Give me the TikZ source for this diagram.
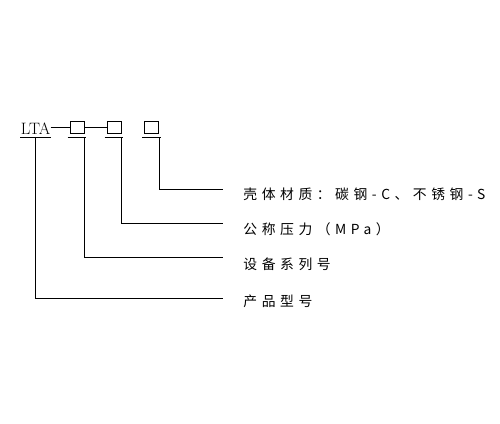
\documentclass[tikz,border=0pt]{standalone}
\usepackage{fontspec}
\newfontfamily\cjk[LetterSpace=33]{Noto Sans CJK SC}
\usetikzlibrary{positioning}

\tikzset{
  slot/.style={rectangle, draw=black, minimum width=14pt, minimum height=12pt, inner sep=0pt},
  note/.style={inner sep=0pt, anchor=west, font=\cjk\fontsize{13.8}{15}\selectfont},
  lead/.style={line width=0.9pt}
}

\begin{document}
\begin{tikzpicture}[x=1pt, y=-1pt, lead]
\useasboundingbox (0,0) rectangle (500,423);

% Код изделия
\node (lta) [anchor=south, inner xsep=0pt, inner ysep=2pt, font=\fontsize{16.5}{18}\selectfont] at (35.5,137) {LTA};
\node (b1) [slot] at (77,127) {};
\node (b2) [slot] at (114,127) {};
\node (b3) [slot] at (151.5,127) {};

% Подчёркивания и тире
\draw (lta.south west) -- (lta.south east);
\foreach \b in {b1,b2,b3}
  \draw ([xshift=-2pt,yshift=-4pt]\b.south west) -- ([xshift=2pt,yshift=-4pt]\b.south east);
\draw (lta.east |- b1.west) -- (b1.west);
\draw (b1.east) -- (b2.west);

% Концы выносок
\coordinate (e1) at (223,189);
\coordinate (e2) at (223,223);
\coordinate (e3) at (223,257);
\coordinate (e4) at (223,298);

% Подписи
\node (n1) [note, right=20pt of e1, yshift=-5pt] {壳体材质：碳钢-C、不锈钢-S};
\node (n2) [note, right=20pt of e2, yshift=-6pt] {公称压力（MPa）};
\node (n3) [note, right=20pt of e3, yshift=-7pt] {设备系列号};
\node (n4) [note, right=20pt of e4, yshift=-3pt] {产品型号};

% Выноски
\draw ([yshift=-4pt]b3.south east) |- (e1);
\draw ([yshift=-4pt]b2.south east) |- (e2);
\draw ([yshift=-4pt]b1.south east) |- (e3);
\draw (lta.south) |- (e4);

\end{tikzpicture}
\end{document}
